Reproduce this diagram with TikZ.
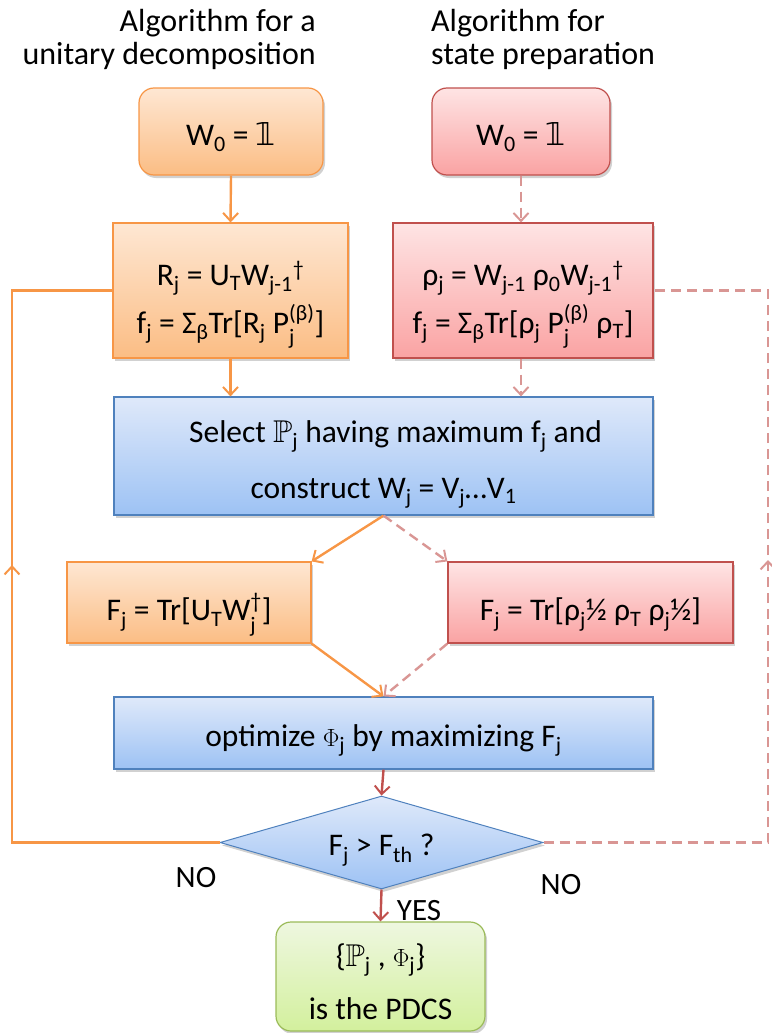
\documentclass[tikz,border=0pt]{standalone}
\usepackage{amsmath,amssymb}
\usepackage{fontspec}
\setmainfont{Carlito}
\newfontfamily\djv{DejaVu Sans}
\usetikzlibrary{shapes.geometric,arrows.meta,shadows,decorations.markings}
\newcommand{\xsub}[1]{\ensuremath{_{\text{#1}}}}
\newcommand{\xsup}[1]{\ensuremath{^{\text{#1}}}}
\newcommand{\xsubsup}[2]{\ensuremath{_{\text{#1}}^{\text{#2}}}}
\newcommand{\dsone}{{\djv 𝟙}}
% single line: put baseline #1 pt below node centre
\newcommand{\lowerby}[2]{\raisebox{-#1pt}[0pt][0pt]{#2}}
% multi line helpers: first-line height strut and last-line depth strut
\newcommand{\tstrut}[1]{\rule{0pt}{#1pt}}
\newcommand{\bstrut}{\rule[-12pt]{0pt}{12pt}}
\definecolor{obrd}{HTML}{F79646}
\definecolor{otop}{HTML}{FEE7D3}
\definecolor{obot}{HTML}{FBBD84}
\definecolor{rbrd}{HTML}{C0504D}
\definecolor{rtop}{HTML}{FEE4E4}
\definecolor{rbot}{HTML}{FAA3A3}
\definecolor{bbrd}{HTML}{4F81BD}
\definecolor{btop}{HTML}{DFE9FA}
\definecolor{bbot}{HTML}{9DC2F4}
\definecolor{gbrd}{HTML}{9BBB59}
\definecolor{gtop}{HTML}{EEF7E0}
\definecolor{gbot}{HTML}{D3F09D}
\definecolor{pdash}{HTML}{D99694}
\definecolor{rarr}{HTML}{C0504D}
\begin{document}
\begin{tikzpicture}[x=1pt,y=-1pt,
  txt/.style={font=\fontsize{31.5}{52}\selectfont, align=center, inner sep=0pt},
  shad/.style={drop shadow={shadow xshift=2pt, shadow yshift=-3pt, opacity=.3, fill=black!60}},
  obox/.style={txt, shad, draw=obrd, line width=1.2pt, top color=otop, bottom color=obot},
  rbox/.style={txt, shad, draw=rbrd, line width=1.2pt, top color=rtop, bottom color=rbot},
  bbox/.style={txt, shad, draw=bbrd, line width=1.2pt, top color=btop, bottom color=bbot},
  gbox/.style={txt, shad, draw=gbrd, line width=1.2pt, top color=gtop, bottom color=gbot, rounded corners=15pt},
  tip/.style={-{Straight Barb[length=8pt,width=15pt,line width=2pt]}},
  oarr/.style={draw=obrd, line width=2.4pt, tip},
  parr/.style={draw=pdash, line width=2.4pt, dash pattern=on 10pt off 6pt, tip},
  rarrow/.style={draw=rarr, line width=2.4pt, tip},
  midtip/.style={postaction={decorate}, decoration={markings, mark=at position #1 with {\arrow{Straight Barb[length=8pt,width=15pt,line width=2pt]}}}},
  lbl/.style={font=\fontsize{31}{34}\selectfont, inner sep=0pt},
  ttl/.style={font=\fontsize{32}{36}\selectfont, inner sep=0pt}
]
\useasboundingbox (0,0) rectangle (771,1033);

% titles
\node[ttl, anchor=base east] (t1a) at (316,32) {Algorithm for a};
\node[ttl, anchor=base east] (t1b) at (316,64) {unitary decomposition};
\node[ttl, anchor=base west] (t2a) at (431,32) {Algorithm for};
\node[ttl, anchor=base west] (t2b) at (431,64) {state preparation};

% boxes
\node[obox, rounded corners=15pt, minimum width=184pt, minimum height=87pt] (tl) at (231,131.5) {\lowerby{14}{W\xsub{0} = \dsone}};
\node[rbox, rounded corners=15pt, minimum width=178pt, minimum height=87pt] (tr) at (521,131.5) {\lowerby{14}{W\xsub{0} = \dsone}};

\node[obox, minimum width=235pt, minimum height=135pt] (ml) at (230.5,290.5)
  {\tstrut{53}R\xsub{j} = U\xsub{T}W\xsub{j-1}\xsup{†}\\[-4pt] f\xsub{j} = Σ\xsub{β}Tr[R\xsub{j} P\xsubsup{j}{(β)}]\bstrut};
\node[rbox, minimum width=260pt, minimum height=135pt] (mr) at (523,290.5)
  {\tstrut{53}ρ\xsub{j} = W\xsub{j-1} ρ\xsub{0}W\xsub{j-1}\xsup{†}\\[-4pt] f\xsub{j} = Σ\xsub{β}Tr[ρ\xsub{j} P\xsubsup{j}{(β)} ρ\xsub{T}]\bstrut};

\node[bbox, minimum width=539pt, minimum height=118pt] (sel) at (383.5,456)
  {\tstrut{40}\hspace*{24pt}Select $\mathbb{P}$\xsub{j} having maximum f\xsub{j} and\\[4pt] construct W\xsub{j} = V\xsub{j}…V\xsub{1}\bstrut};

\node[obox, minimum width=244pt, minimum height=81pt] (fl) at (189,602.5)
  {\lowerby{18}{F\xsub{j} = Tr[U\xsub{T}W\xsubsup{j}{†}]}};
\node[rbox, minimum width=285pt, minimum height=81pt] (fr) at (590.5,602.5)
  {\lowerby{18}{F\xsub{j} = Tr[ρ\xsub{j}½ ρ\xsub{T} ρ\xsub{j}½]}};

\node[bbox, minimum width=539pt, minimum height=72pt] (opt) at (383.5,733)
  {\lowerby{13}{optimize $\Phi$\xsub{j} by maximizing F\xsub{j}}};

\node[bbox, diamond, aspect=3.47, minimum width=323pt, minimum height=93pt, line width=1pt] (dia) at (381.5,842.5)
  {\lowerby{13}{F\xsub{j} > F\xsub{th} ?}};

\node[gbox, minimum width=209pt, minimum height=103pt] (gr) at (380.5,976.5)
  {\tstrut{44}\{$\mathbb{P}$\xsub{j} , $\Phi$\xsub{j}\}\\[1pt] is the PDCS\bstrut};

% labels
\node[lbl] (no1) at (196,878) {NO};
\node[lbl] (no2) at (561,885) {NO};
\node[lbl] (yes) at (419,911) {YES};

% connectors
\draw[oarr] (tl.south) -- (ml.north);
\draw[parr] (tr.south) -- (tr.south |- mr.north);
\draw[oarr] (ml.south) -- (ml.south |- sel.north);
\draw[parr] (tr.south |- mr.south) -- (tr.south |- sel.north);
\draw[oarr] (sel.south) -- (fl.north east);
\draw[parr] (sel.south) -- (fr.north west);
\draw[oarr] (fl.south east) -- (opt.north);
\draw[parr] (fr.south west) -- (opt.north);
\draw[rarrow] (opt.south) -- (dia.north);
\draw[rarrow] (dia.south) -- (gr.north);

\coordinate (lb) at (12,842.5);
\coordinate (lt) at (12,290.5);
\coordinate (rb) at (768,842.5);
\coordinate (rt) at (768,290.5);
\draw[draw=obrd, line width=2.4pt, midtip=485pt] (dia.west) -- (lb) -- (lt) -- (ml.west);
\draw[draw=pdash, line width=2.4pt, dash pattern=on 10pt off 6pt, midtip=507pt] (dia.east) -- (rb) -- (rt) -- (mr.east);
\end{tikzpicture}
\end{document}
